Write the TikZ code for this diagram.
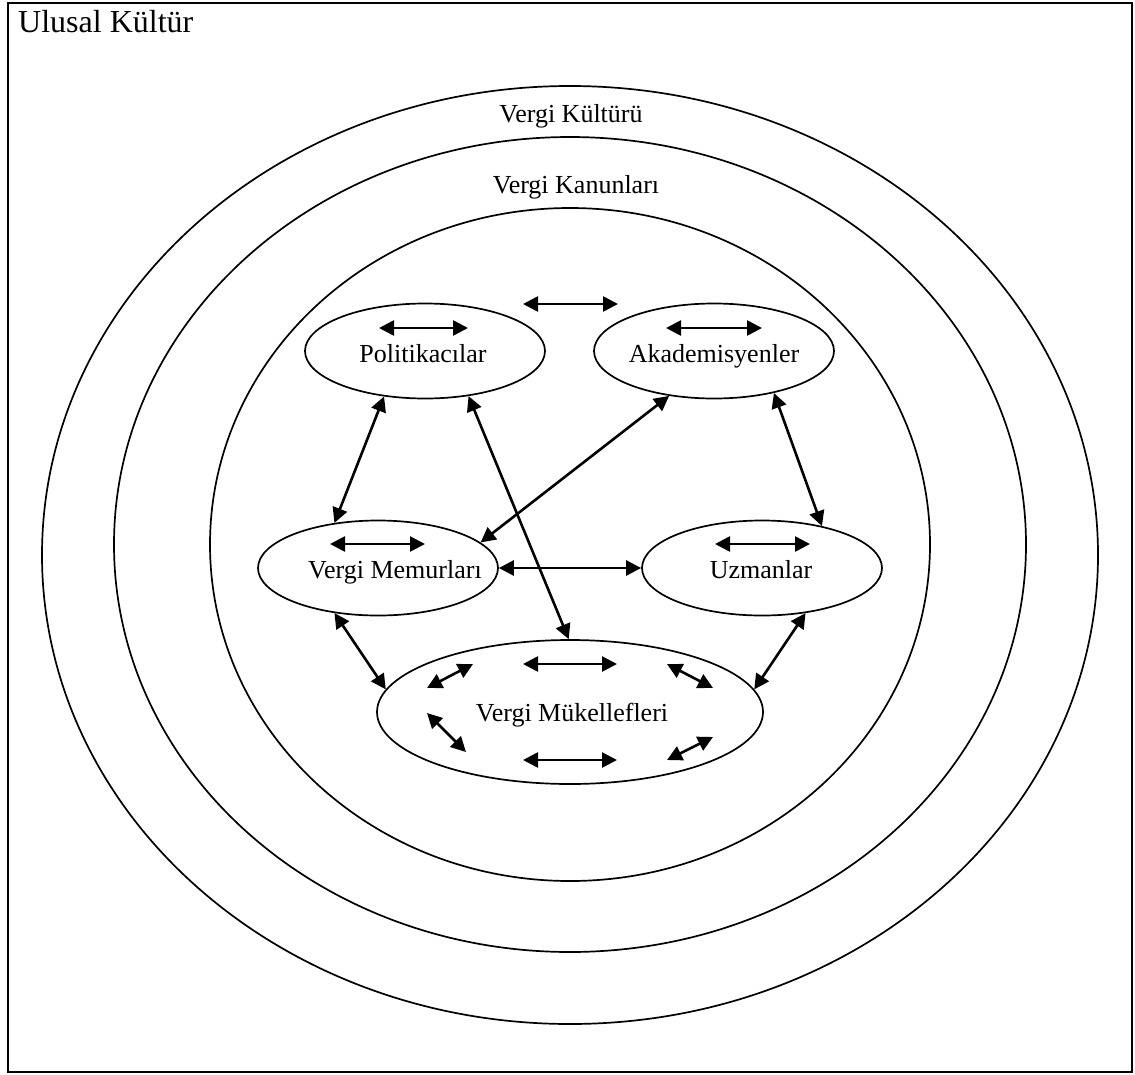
\documentclass[tikz,border=0pt]{standalone}
\usepackage{fontspec}
\setmainfont{Liberation Serif}
\usetikzlibrary{arrows.meta,shapes.geometric}
\begin{document}
\begin{tikzpicture}[x=1pt,y=-1pt,
  ring/.style={line width=1.7pt},
  grp/.style={draw, ellipse, line width=1.7pt, inner sep=0pt, minimum width=240pt, minimum height=95pt},
  lbl/.style={font=\fontsize{26}{30}\selectfont, inner sep=0pt, anchor=base},
  tip/.tip={Triangle[length=15pt,width=15pt]},
  link/.style={line width=2.6pt, tip-tip},
]
\useasboundingbox (0,0) rectangle (1135,1074);
\draw[line width=2.4pt] (8,3) rectangle (1132,1072);
\node[font=\fontsize{32}{38}\selectfont, inner sep=0pt, anchor=base west] (ulusal) at (18,32) {Ulusal Kültür};

% rings
\draw[ring] (570,555) ellipse [x radius=528pt, y radius=469pt];
\draw[ring] (570,544.5) ellipse [x radius=456pt, y radius=407.5pt];
\draw[ring] (570,544.5) ellipse [x radius=360pt, y radius=336.5pt];
\node[lbl] (vk) at (571,122) {Vergi Kültürü};
\node[lbl] (vkan) at (576,193) {Vergi Kanunları};

% groups
\node[grp] (pol) at (425,351) {};
\node[grp] (aka) at (714,351) {};
\node[grp] (mem) at (378,568) {};
\node[grp] (uzm) at (762,568) {};
\node[grp, minimum width=386pt, minimum height=144pt] (muk) at (570,712) {};

\node[lbl] (polt) at (423,362) {Politikacılar};
\node[lbl] (akat) at (714,362) {Akademisyenler};
\node[lbl] (memt) at (395,578) {Vergi Memurları};
\node[lbl] (uzmt) at (761,578) {Uzmanlar};
\node[lbl] (mukt) at (572,721) {Vergi Mükellefleri};

% free arrow end points
\coordinate (top1) at (523,304);  \coordinate (top2) at (618,304);
\coordinate (p1) at (379,328);    \coordinate (p2) at (468,328);
\coordinate (a1) at (666,328);    \coordinate (a2) at (762,328);
\coordinate (m1) at (330,544);    \coordinate (m2) at (425,544);
\coordinate (u1) at (715,544);    \coordinate (u2) at (810,544);
\coordinate (k1) at (427,688);    \coordinate (k2) at (473,664);
\coordinate (k3) at (427,713);    \coordinate (k4) at (466,752);
\coordinate (k5) at (667,664);    \coordinate (k6) at (713,688);
\coordinate (k7) at (667,760);    \coordinate (k8) at (713,737);
\coordinate (k9) at (523,664);    \coordinate (k10) at (617,664);
\coordinate (k11) at (523,760);   \coordinate (k12) at (617,760);

\draw[link] (top1) -- (top2);
\draw[link] (p1) -- (p2);
\draw[link] (a1) -- (a2);
\draw[link] (m1) -- (m2);
\draw[link] (u1) -- (u2);
\draw[link] (k1) -- (k2);
\draw[link] (k3) -- (k4);
\draw[link] (k5) -- (k6);
\draw[link] (k7) -- (k8);
\draw[link] (k9) -- (k10);
\draw[link] (k11) -- (k12);

% connectors between groups
\draw[link] (pol.-132) -- (mem.134);
\draw[link] (pol.-46) -- (muk.91);
\draw[link] (aka.-135) -- (mem.14);
\draw[link] (aka.-35) -- (uzm.35);
\draw[link] (mem.east) -- (uzm.west);
\draw[link] (mem.-134) -- (muk.173);
\draw[link] (uzm.-46) -- (muk.7);
\end{tikzpicture}
\end{document}
